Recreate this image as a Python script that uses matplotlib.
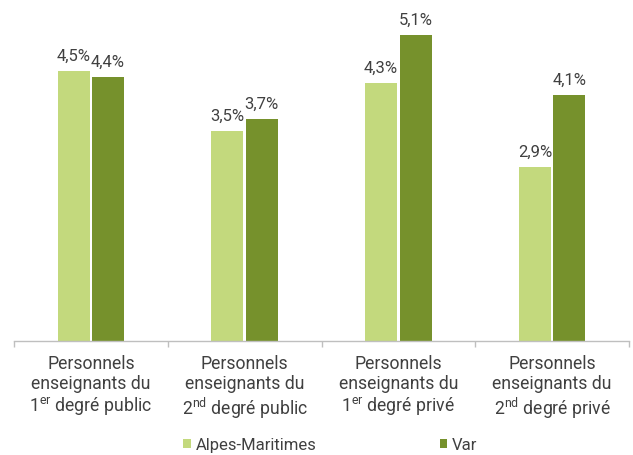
import matplotlib
matplotlib.use("Agg")
import matplotlib.pyplot as plt
from matplotlib import font_manager
import numpy as np

# data
categories = [
    "Personnels\nenseignants du\n1$^{\\mathregular{er}}$ degré public",
    "Personnels\nenseignants du\n2$^{\\mathregular{nd}}$ degré public",
    "Personnels\nenseignants du\n1$^{\\mathregular{er}}$ degré privé",
    "Personnels\nenseignants du\n2$^{\\mathregular{nd}}$ degré privé",
]
alpes = [4.5, 3.5, 4.3, 2.9]
var = [4.4, 3.7, 5.1, 4.1]
series_names = ["Alpes-Maritimes", "Var"]

names = {f.name for f in font_manager.fontManager.ttflist}
font = "Liberation Sans Narrow" if "Liberation Sans Narrow" in names else "Roboto"
plt.rcParams["font.family"] = [font, "DejaVu Sans"]

light = "#C3D97D"
dark = "#76912C"
txt = "#404040"

fig = plt.figure(figsize=(6.33, 4.55), dpi=100)
ax = fig.add_axes([14 / 633, 114 / 455, 615 / 633, 341 / 455])

x = np.arange(len(categories))
w = 0.208
gap = 0.008
b1 = ax.bar(x - w / 2 - gap, alpes, w, color=light, label=series_names[0])
b2 = ax.bar(x + w / 2 + gap, var, w, color=dark, label=series_names[1])

for bars in (b1, b2):
    for r in bars:
        v = r.get_height()
        ax.annotate(("%.1f%%" % v).replace(".", ","),
                    (r.get_x() + r.get_width() / 2, v),
                    xytext=(0, 5), textcoords="offset points",
                    ha="center", va="bottom", fontsize=12, color=txt)

ax.set_xlim(-0.5, len(categories) - 0.5)
ax.set_ylim(0, 341 / 60)
ax.set_xticks(x)
ax.set_xticklabels(categories, fontsize=12.7, color=txt, linespacing=1.15)
ax.set_xticks(np.arange(len(categories) + 1) - 0.5, minor=True)
ax.tick_params(axis="x", which="major", length=0, pad=10)
ax.tick_params(axis="x", which="minor", length=4, color="#BFBFBF", width=1)
ax.set_yticks([])
for s in ("top", "right", "left"):
    ax.spines[s].set_visible(False)
ax.spines["bottom"].set_color("#BFBFBF")
ax.spines["bottom"].set_linewidth(1)

fig.legend(handles=[b1, b2], labels=series_names, loc="lower left",
           bbox_to_anchor=(168 / 633, -0.028), ncol=2, frameon=False,
           fontsize=12, handlelength=0.45, handleheight=0.45,
           handletextpad=0.3, columnspacing=7.4, labelcolor=txt)

fig.savefig("out.png", dpi=100)
